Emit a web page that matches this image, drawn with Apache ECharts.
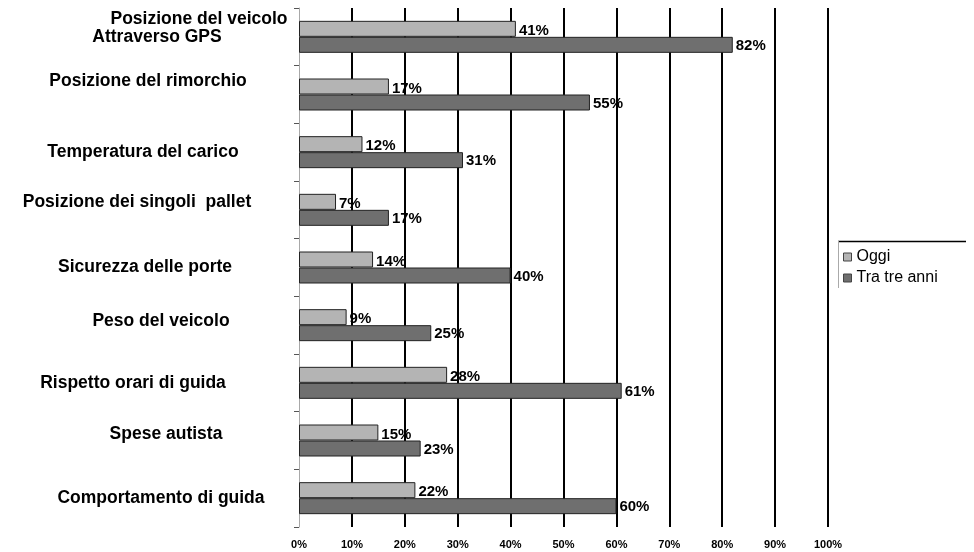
<!DOCTYPE html>
<html>
<head>
<meta charset="utf-8">
<script src="https://cdn.jsdelivr.net/npm/echarts@6/dist/echarts.min.js"></script>
<style>
  html, body { margin: 0; padding: 0; background: #fff; }
  #chart { width: 974px; height: 552px; }
</style>
</head>
<body>
<div id="chart"></div>
<script>
// Categories, top to bottom
const categories = [
  'Posizione del veicolo\nAttraverso GPS',
  'Posizione del rimorchio',
  'Temperatura del carico',
  'Posizione dei singoli  pallet',
  'Sicurezza delle porte',
  'Peso del veicolo',
  'Rispetto orari di guida',
  'Spese autista',
  'Comportamento di guida'
];
const seriesNames = ['Oggi', 'Tra tre anni'];
const oggi = [41, 17, 12, 7, 14, 9, 28, 15, 22];
const traTreAnni = [82, 55, 31, 17, 40, 25, 61, 23, 60];
const xTicks = [0, 10, 20, 30, 40, 50, 60, 70, 80, 90, 100];

const FONT = '"Liberation Sans", Arial, Helvetica, sans-serif';
const CAT_SIZE = 17.5;

// Per-label nudges (dx, dy in px) for the category captions
const labelNudge = [
  null,
  [0, -13], [-5, 0], [-11, -8], [-3, 0], [13, -4], [-15, 0], [18, -6], [13, 0]
];

function padFor(dx, dy) {
  // padding [top, right, bottom, left] that shifts centered text by (dx, dy)
  return [dy > 0 ? 2 * dy : 0, dx < 0 ? -2 * dx : 0, dy < 0 ? -2 * dy : 0, dx > 0 ? 2 * dx : 0];
}

const rich = {};
const baseRich = { fontFamily: FONT, fontWeight: 'bold', fontSize: CAT_SIZE, color: '#000', align: 'center' };
labelNudge.forEach(function (n, i) {
  if (n) rich['k' + i] = Object.assign({}, baseRich, { padding: padFor(n[0], n[1]) });
});
// two-line caption of the first category
rich.h1 = Object.assign({}, baseRich, { lineHeight: 18, padding: [0, 0, 18, 102] });
rich.h2 = Object.assign({}, baseRich, { lineHeight: 18, padding: [0, 0, 18, 18] });

const chart = echarts.init(document.getElementById('chart'), null, { renderer: 'canvas' });

const option = {
  backgroundColor: '#fff',
  animation: false,
  grid: { left: 299, right: 146, top: 8, bottom: 25, containLabel: false },
  xAxis: {
    type: 'value',
    min: xTicks[0],
    max: xTicks[xTicks.length - 1],
    interval: xTicks[1] - xTicks[0],
    axisLine: { show: false },
    axisTick: { show: false },
    axisLabel: {
      formatter: '{value}%',
      fontFamily: FONT, fontWeight: 'bold', fontSize: 11, color: '#000', margin: 12
    },
    splitLine: { show: true, showMinLine: false, lineStyle: { color: '#000', width: 2 } }
  },
  yAxis: {
    type: 'category',
    inverse: true,
    data: categories,
    axisLine: { show: true, lineStyle: { color: '#a8a8a8', width: 1 } },
    axisTick: { show: true, length: 5, lineStyle: { color: '#555' } },
    axisLabel: {
      margin: 151,
      align: 'center',
      fontFamily: FONT, fontWeight: 'bold', fontSize: CAT_SIZE, color: '#000',
      formatter: function (v, i) {
        if (v.indexOf('\n') >= 0) {
          const parts = v.split('\n');
          return '{h1|' + parts[0] + '}\n{h2|' + parts[1] + '}';
        }
        return '{k' + i + '|' + v + '}';
      },
      rich: rich
    },
    splitLine: { show: false }
  },
  legend: {
    data: seriesNames,
    orient: 'vertical',
    left: 838,
    top: 246,
    padding: [3, 5, 3, 5],
    itemWidth: 8,
    itemHeight: 8,
    itemGap: 5,
    icon: 'rect',
    textStyle: { fontFamily: FONT, fontSize: 16, color: '#000' },
    itemStyle: { borderColor: '#444', borderWidth: 1 }
  },
  // legend frame: dark top edge, light left edge
  graphic: [
    { type: 'line', shape: { x1: 838, y1: 241.5, x2: 966, y2: 241.5 }, style: { stroke: '#000', lineWidth: 1.5 } },
    { type: 'line', shape: { x1: 838.5, y1: 241, x2: 838.5, y2: 288 }, style: { stroke: '#aaa', lineWidth: 1 } }
  ],
  series: [
    {
      name: seriesNames[0],
      type: 'bar',
      data: oggi,
      barWidth: 16,
      barGap: '0%',
      itemStyle: { color: '#b4b4b4', borderColor: '#222', borderWidth: 1 },
      label: {
        show: true, position: 'right', distance: 3, formatter: '{c}%',
        fontFamily: FONT, fontWeight: 'bold', fontSize: 15, color: '#000', offset: [0, 2]
      }
    },
    {
      name: seriesNames[1],
      type: 'bar',
      data: traTreAnni,
      barWidth: 16,
      barGap: '0%',
      itemStyle: { color: '#6f6f6f', borderColor: '#222', borderWidth: 1 },
      label: {
        show: true, position: 'right', distance: 3, formatter: '{c}%',
        fontFamily: FONT, fontWeight: 'bold', fontSize: 15, color: '#000', offset: [0, 1]
      }
    }
  ]
};

chart.setOption(option);
</script>
</body>
</html>
